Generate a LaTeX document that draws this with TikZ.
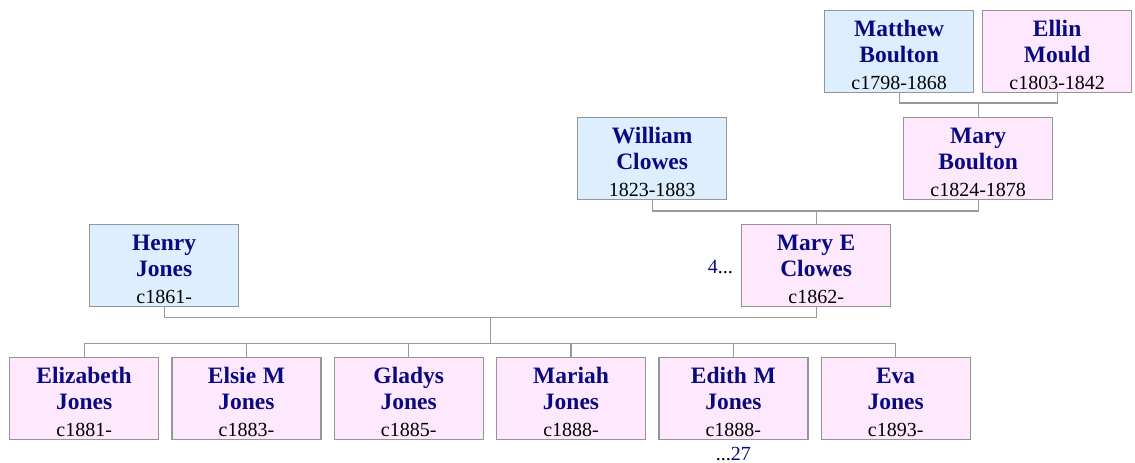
\documentclass[tikz,border=0pt]{standalone}
\usepackage{fontspec}
\setmainfont{Liberation Serif}
\usetikzlibrary{calc}
\definecolor{namecol}{HTML}{0A0A80}
\definecolor{malefill}{HTML}{DDEEFF}
\definecolor{femfill}{HTML}{FEE8FE}
\definecolor{boxline}{HTML}{959595}
\definecolor{conline}{HTML}{9A9A9A}
\newcommand{\pers}[3]{{\fontsize{23.5}{26.5}\selectfont\bfseries\color{namecol}\rule{0pt}{22pt}#1\\#2}\\#3}
\begin{document}
\begin{tikzpicture}[x=1pt,y=-1pt,
  pbox/.style={draw=boxline,line width=1.3pt,minimum width=149pt,minimum height=82pt,
    inner sep=0pt,align=center,anchor=north west,text width=149pt,
    font=\fontsize{20}{26.5}\selectfont},
  male/.style={pbox,fill=malefill},
  female/.style={pbox,fill=femfill},
  con/.style={draw=conline,line width=1.2pt},
  linktext/.style={inner sep=0pt,font=\fontsize{20}{24}\selectfont}]
\useasboundingbox (0,0) rectangle (1135,463);
% generation 1
\node[male] (mb) at (824,10) {\pers{Matthew}{Boulton}{c1798-1868}};
\node[female] (em) at (982,10) {\pers{Ellin}{Mould}{c1803-1842}};
% generation 2
\node[male] (wc) at (577,117) {\pers{William}{Clowes}{1823-1883}};
\node[female] (mbo) at (903,117) {\pers{Mary}{Boulton}{c1824-1878}};
% generation 3
\node[male] (hj) at (89,224) {\pers{Henry}{Jones}{c1861-}};
\node[female] (mec) at (741,224) {\pers{Mary E}{Clowes}{c1862-}};
% children
\node[female] (c1) at (9,357) {\pers{Elizabeth}{Jones}{c1881-}};
\node[female] (c2) at (171.3,357) {\pers{Elsie M}{Jones}{c1883-}};
\node[female] (c3) at (333.6,357) {\pers{Gladys}{Jones}{c1885-}};
\node[female] (c4) at (495.9,357) {\pers{Mariah}{Jones}{c1888-}};
\node[female] (c5) at (658.2,357) {\pers{Edith M}{Jones}{c1888-}};
\node[female] (c6) at (820.5,357) {\pers{Eva}{Jones}{c1893-}};
% link texts
\node[linktext,anchor=base east] (l4) at ($(mec.west)+(-8,7.5)$) {\color{namecol}4\color{black}...};
\node[linktext,anchor=base] (l27) at ($(c5.south)+(0,20)$) {...\color{namecol}27};
% connectors
\coordinate (j1) at ($(mbo.north)+(0,-14)$);
\draw[con] (mb.south) |- (j1) -| (em.south);
\draw[con] (j1) -- (mbo.north);
\coordinate (j2) at ($(mec.north)+(0,-13)$);
\draw[con] (wc.south) |- (j2) -| (mbo.south);
\draw[con] (j2) -- (mec.north);
\coordinate (j3) at ($($(hj.south)!0.5!(mec.south)$)+(0,10)$);
\coordinate (j4) at ($(j3)+(0,26)$);
\draw[con] (hj.south) |- (j3) -| (mec.south);
\draw[con] (j3) -- (j4);
\draw[con] (c1.north) |- (j4) -| (c6.north);
\foreach \c in {c2,c3,c4,c5}{\draw[con] (\c.north) -- (\c.north |- j4);}
\end{tikzpicture}
\end{document}
